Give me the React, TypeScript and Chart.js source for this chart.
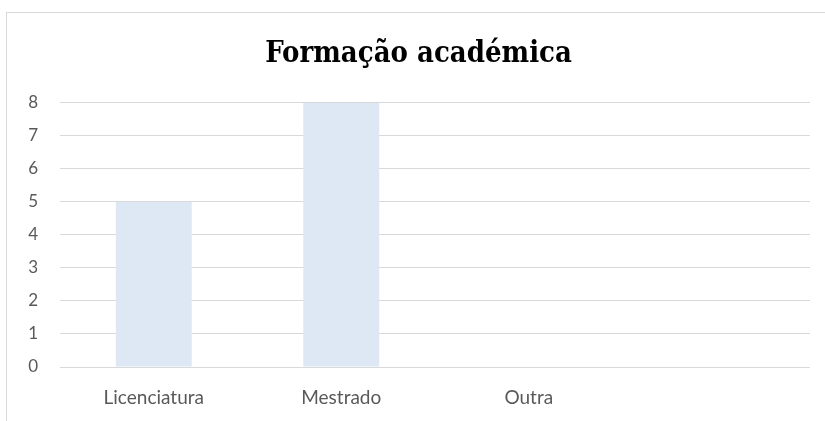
import React, { useEffect, useRef } from "react";
import { Chart, registerables } from "chart.js";

Chart.register(...registerables);

const categories = ["Licenciatura", "Mestrado", "Outra", ""];
const values = [5, 8, 0, 0];
const titleText = "Formação académica";

export default function App() {
  const ref = useRef<HTMLCanvasElement | null>(null);
  useEffect(() => {
    if (!ref.current) return;
    const chart = new Chart(ref.current, {
      type: "bar",
      data: {
        labels: categories,
        datasets: [
          {
            data: values,
            backgroundColor: "#dde8f4",
            borderWidth: 0,
            barPercentage: 0.405,
            categoryPercentage: 1,
          },
        ],
      },
      options: {
        responsive: false,
        animation: false,
        layout: { padding: { left: 27, right: 15, top: 0, bottom: 13 } },
        plugins: {
          legend: { display: false },
          tooltip: { enabled: false },
          title: {
            display: true,
            text: titleText,
            color: "#000000",
            font: { family: "'DejaVu Serif Condensed', 'DejaVu Serif', serif", size: 29, weight: "bold" },
            padding: { top: 37, bottom: 31 },
          },
        },
        scales: {
          x: {
            grid: { display: false, drawTicks: false },
            border: { display: false },
            ticks: {
              color: "#595959",
              font: { family: "Lato, 'Open Sans', sans-serif", size: 19 },
              padding: 19,
              maxRotation: 0,
            },
            afterFit: (scale: any) => {
              scale.paddingLeft = 0;
              scale.paddingRight = 0;
              scale.height = 41;
            },
          },
          y: {
            min: 0,
            max: 8,
            grid: { color: "#d9d9d9", lineWidth: 1, drawTicks: false },
            border: { display: false },
            ticks: {
              stepSize: 1,
              color: "#595959",
              font: { family: "Lato, 'Open Sans', sans-serif", size: 17 },
              padding: 22,
            },
            afterFit: (scale: any) => {
              scale.width = 33;
            },
          },
        },
      },
    });
    return () => chart.destroy();
  }, []);
  return (
    <div style={{ position: "fixed", left: 0, top: 0, width: 825, height: 421, overflow: "hidden", background: "#fff" }}>
      <div
        style={{
          position: "absolute",
          left: 6,
          top: 12,
          width: 860,
          height: 460,
          border: "1px solid #d9d9d9",
          boxSizing: "border-box",
        }}
      />
      <canvas ref={ref} width={825} height={421} style={{ position: "absolute", left: 0, top: 0 }} />
    </div>
  );
}
